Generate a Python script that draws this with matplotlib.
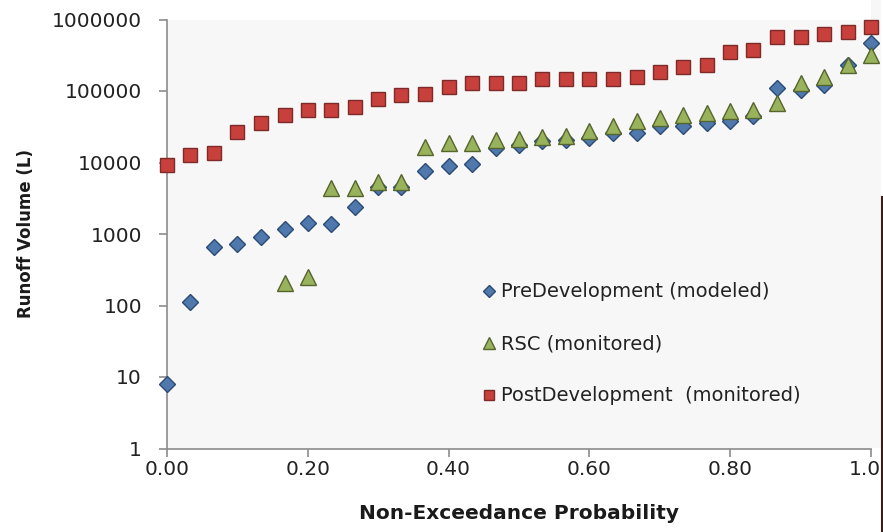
import matplotlib
matplotlib.use("Agg")
import matplotlib.pyplot as plt
import numpy as np
from matplotlib.lines import Line2D
from matplotlib.patches import Rectangle

# non-exceedance probability for each ranked event
prob = [0.00, 0.033, 0.067, 0.10, 0.133, 0.167, 0.20, 0.233, 0.267, 0.30, 0.333,
        0.367, 0.40, 0.433, 0.467, 0.50, 0.533, 0.567, 0.60, 0.633, 0.667,
        0.70, 0.733, 0.767, 0.80, 0.833, 0.867, 0.90, 0.933, 0.967, 1.00]

pre_dev = [8, 112, 660, 720, 900, 1170, 1410, 1380, 2400, 4600, 4600,
           7500, 8800, 9600, 15900, 17700, 19700, 20800, 22000, 25800, 25800,
           31900, 32600, 35700, 37500, 44100, 110000, 104000, 123000, 230000, 472000]

rsc = [np.nan, np.nan, np.nan, np.nan, np.nan, 204, 252, 4370, 4370, 5410, 5410,
       16700, 18700, 19000, 20500, 21300, 23100, 23700, 27200, 31900, 37500,
       42300, 46600, 49200, 51900, 54800, 68000, 130000, 157000, 234000, 323000]

post_dev = [9080, 12800, 13700, 27000, 36000, 46600, 54800, 54800, 60400, 78300, 89000,
            91900, 115000, 131000, 131000, 131000, 145000, 145000, 145000, 145000, 159000,
            187000, 219000, 234000, 356000, 380000, 578000, 578000, 637000, 679000, 798000]

labels = ["PreDevelopment (modeled)", "RSC (monitored)", "PostDevelopment  (monitored)"]
x_ticks = [0.0, 0.2, 0.4, 0.6, 0.8, 1.0]
y_ticks = [1, 10, 100, 1000, 10000, 100000, 1000000]

plt.rcParams['font.family'] = ['DejaVu Sans']

fig = plt.figure(figsize=(8.83, 5.32), dpi=100)
ax = fig.add_axes([167/883, 1 - 448.5/532, 704/883, 429/532])
ax.set_facecolor('#f7f7f7')

ax.plot(prob, pre_dev, linestyle='none', marker='D', markersize=8.5,
        color='#4f78ad', markeredgecolor='#2b4a74', markeredgewidth=1.0,
        clip_on=False, label=labels[0], zorder=3)
ax.plot(prob, rsc, linestyle='none', marker='^', markersize=11,
        color='#99b35c', markeredgecolor='#56652e', markeredgewidth=1.0,
        clip_on=False, label=labels[1], zorder=4)
ax.plot(prob, post_dev, linestyle='none', marker='s', markersize=10.5,
        color='#c8403c', markeredgecolor='#7e2a28', markeredgewidth=1.0,
        clip_on=False, label=labels[2], zorder=5)

ax.set_yscale('log')
ax.set_xlim(0, 1.0)
ax.set_ylim(1, 1000000)
ax.set_yticks(y_ticks)
ax.set_yticklabels([str(v) for v in y_ticks])
ax.yaxis.set_minor_locator(matplotlib.ticker.NullLocator())
ax.set_xticks(x_ticks)
ax.set_xticklabels(["%.2f" % v for v in x_ticks])

for s in ['top', 'right']:
    ax.spines[s].set_visible(False)
for s in ['left', 'bottom']:
    ax.spines[s].set_color('#8c8c8c')
    ax.spines[s].set_linewidth(1.2)
ax.tick_params(axis='both', colors='#8c8c8c', labelcolor='#222222',
               labelsize=14.5, length=6, width=1.2, direction='out')
ax.tick_params(axis='y', pad=12)
ax.tick_params(axis='x', pad=2)

ax.set_xlabel("Non-Exceedance Probability", fontsize=14.5, fontweight='bold',
              color='#1a1a1a', labelpad=18)
ax.set_ylabel("Runoff Volume (L)", fontsize=12, fontweight='bold',
              color='#1a1a1a', labelpad=12)

leg = ax.legend(loc='upper left', bbox_to_anchor=(0.435, 0.41), frameon=False,
                fontsize=14, labelspacing=1.7, handlelength=0.6,
                handletextpad=0.35, markerscale=0.75, borderpad=0)
for t in leg.get_texts():
    t.set_color('#222222')

# edge of the cropped source image on the right
fig.add_artist(Rectangle((871/883, 84/532), 10/883, 448/532, transform=fig.transFigure,
                         facecolor='#f7f7f7', edgecolor='none', zorder=0))
fig.add_artist(Line2D([881.5/883, 881.5/883], [0, 1 - 197/532], color='#3a1c1c',
                      linewidth=1.5))

fig.savefig("out.png", dpi=100)
